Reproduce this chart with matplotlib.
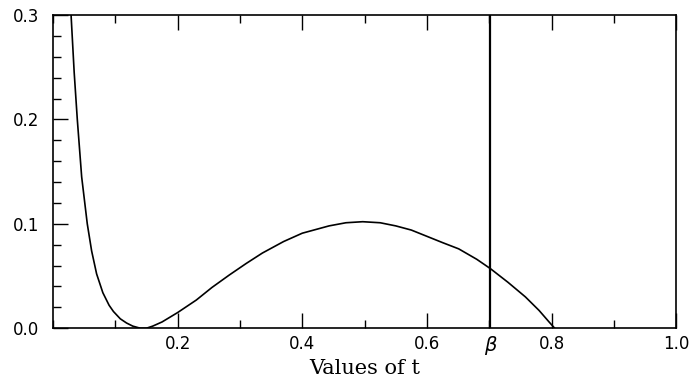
import numpy as np
import matplotlib.pyplot as plt
from matplotlib.ticker import MultipleLocator

# values
t_vals = [0.029, 0.034, 0.039, 0.046, 0.055, 0.062, 0.070, 0.080, 0.090, 0.097, 0.108,
          0.118, 0.128, 0.140, 0.150, 0.160, 0.175, 0.200, 0.230, 0.255, 0.283,
          0.310, 0.336, 0.370, 0.400, 0.443, 0.470, 0.497, 0.525, 0.550, 0.575,
          0.600, 0.625, 0.651, 0.680, 0.702, 0.730, 0.758, 0.780, 0.796, 0.805]
y_vals = [0.300, 0.245, 0.200, 0.145, 0.100, 0.074, 0.052, 0.034, 0.022, 0.016, 0.009,
          0.005, 0.002, 0.000, 0.000, 0.002, 0.006, 0.015, 0.027, 0.039, 0.051,
          0.062, 0.072, 0.083, 0.091, 0.098, 0.101, 0.102, 0.101, 0.098, 0.094,
          0.088, 0.082, 0.076, 0.066, 0.057, 0.044, 0.030, 0.017, 0.006, 0.000]
beta = 0.702
x_ticks = [0.2, 0.4, 0.6, 0.8, 1.0]
x_labels = ['0.2', '0.4', '0.6', '0.8', '1.0']
y_ticks = [0.0, 0.1, 0.2, 0.3]
y_labels = ['0.0', '0.1', '0.2', '0.3']

fig = plt.figure(figsize=(6.9, 3.79), dpi=100)
ax = fig.add_axes([0.0768, 0.134, 0.9032, 0.8265])

ax.plot(t_vals, y_vals, color='black', lw=1.2)
ax.axvline(beta, color='black', lw=1.6)

ax.set_xlim(0, 1.0)
ax.set_ylim(0, 0.3)
ax.set_xticks(x_ticks)
ax.set_xticklabels(x_labels)
ax.set_yticks(y_ticks)
ax.set_yticklabels(y_labels)
ax.xaxis.set_minor_locator(MultipleLocator(0.1))
ax.yaxis.set_minor_locator(MultipleLocator(0.02))
ax.tick_params(which='both', direction='in', top=True, right=False, width=1.0,
               labelsize=12, colors='black')
ax.tick_params(which='major', length=11)
ax.tick_params(which='minor', length=6)
ax.tick_params(axis='x', which='major', pad=5)
ax.tick_params(axis='y', which='major', pad=10)
for sp in ax.spines.values():
    sp.set_linewidth(1.2)

ax.text(beta, -0.055, r'$\beta$', fontsize=14, ha='center', va='center',
        transform=ax.get_xaxis_transform())
ax.set_xlabel('Values of t', family='DejaVu Serif', fontsize=15, labelpad=4)

plt.savefig('out.png')
